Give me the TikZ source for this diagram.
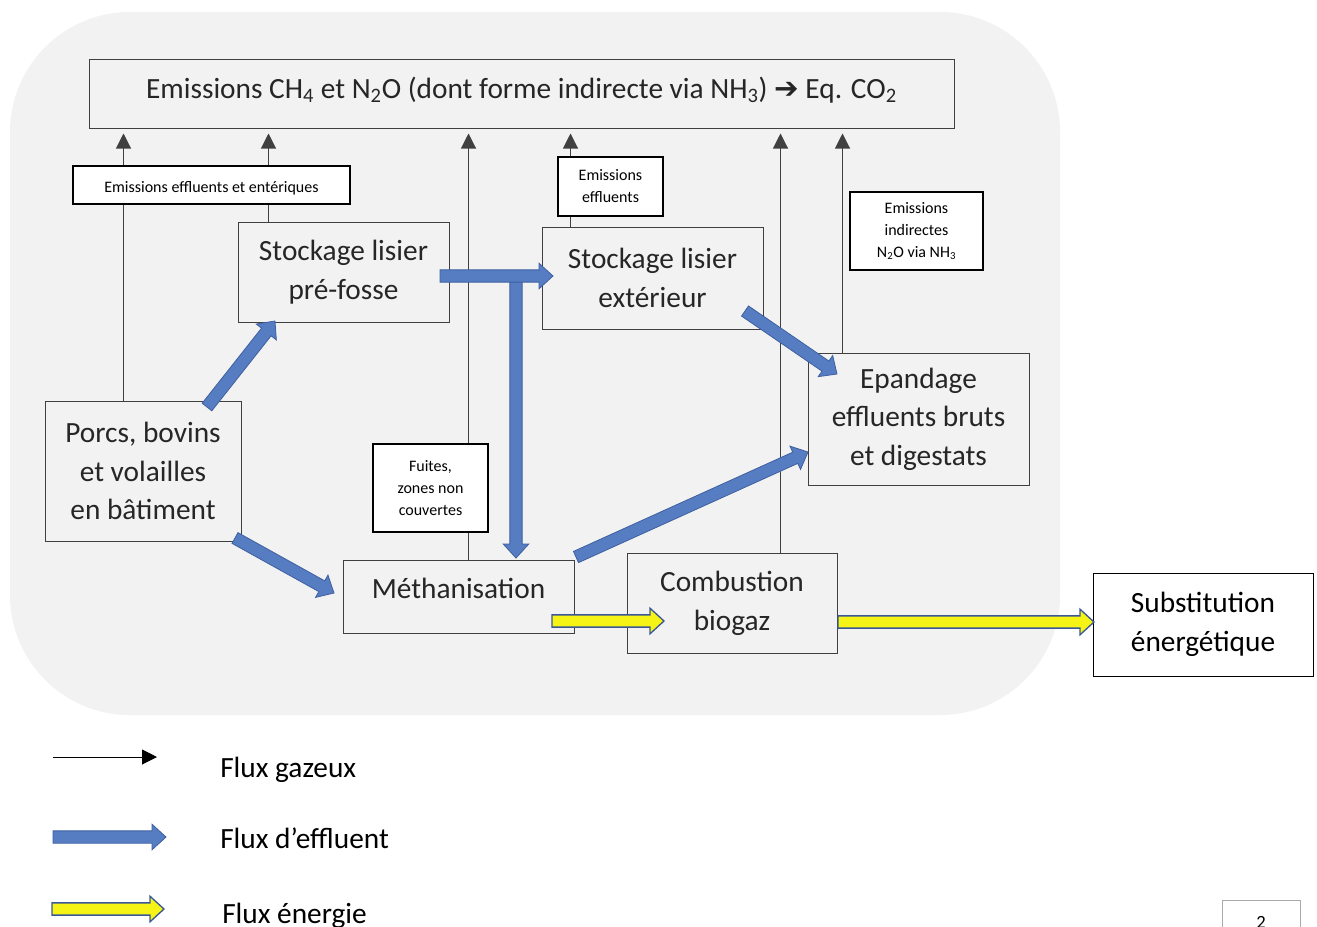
\documentclass[tikz,border=0pt]{standalone}
\usepackage{fontspec}
\setmainfont{Carlito}
\newfontfamily\djv{DejaVu Sans}
\usetikzlibrary{calc,arrows.meta}
\definecolor{bgc}{RGB}{242,242,242}
\definecolor{edge}{RGB}{64,64,64}
\definecolor{txt}{RGB}{38,38,38}
\definecolor{effl}{RGB}{86,124,194}
\definecolor{effld}{RGB}{62,96,160}
\definecolor{enrg}{RGB}{246,243,22}
\definecolor{enrgd}{RGB}{58,88,150}
\definecolor{pgc}{RGB}{170,170,170}
\newcommand{\myBig}{\fontsize{22}{29}\selectfont}
\newcommand{\mySmall}{\fontsize{12}{16.5}\selectfont}
\newcommand{\fatarrow}[3]{%
  \coordinate (fa-c) at ($(#3)!10.5pt!(#2)$);
  \draw[#1] ($(#2)!4.6pt!90:(#3)$) -- ($(fa-c)!4.6pt!90:(#3)$) -- ($(fa-c)!9.6pt!90:(#3)$) -- (#3)
    -- ($(fa-c)!9.6pt!-90:(#3)$) -- ($(fa-c)!4.6pt!-90:(#3)$) -- ($(#2)!4.6pt!-90:(#3)$) -- cycle;
}
\tikzset{
  sz/.style 2 args={minimum width=#1*0.75pt, minimum height=#2*0.75pt},
  box/.style={draw=edge, fill=bgc, line width=0.75pt, inner sep=0pt, align=center, font=\myBig, text=txt},
  lbl/.style={draw=black, fill=white, line width=0.9pt, inner sep=0pt, align=center, font=\mySmall, text=black},
  gas/.style={draw=edge, line width=0.8pt, -{Triangle[length=11.25pt,width=11.25pt]}, shorten >=3.75pt},
  gasleg/.style={draw=black, line width=0.7pt, -{Triangle[length=11.25pt,width=11.25pt]}},
  effluent/.style={fill=effl, draw=effld, line width=0.6pt, line join=miter},
  energie/.style={fill=enrg, draw=enrgd, line width=1pt, line join=miter},
  legtext/.style={anchor=base west, inner sep=0pt, font=\myBig, text=black}
}
\begin{document}
\begin{tikzpicture}[x=0.75pt,y=-0.75pt]
\useasboundingbox[fill=white] (0,0) rectangle (1317,926);
% background panel
\fill[bgc, rounded corners=90pt] (10,12) rectangle (1060,715);

% boxes (positioned first so lines can refer to them)
\node[box, sz={865}{69}, text height=16pt, text depth=8.9pt] (top) at (521.5,93.5) {Emissions CH\textsubscript{4} et N\textsubscript{2}O (dont forme indirecte via NH\textsubscript{3}) {\djv ➔} Eq. CO\textsubscript{2}};
\node[box, sz={211}{100}] (pref) at (343.5,272) {Stockage lisier\\pré-fosse};
\node[box, sz={196}{140}] (porcs) at (143,471) {Porcs, bovins\\et volailles\\en bâtiment};
\node[box, sz={221}{102}] (ext) at (652.5,278) {Stockage lisier\\extérieur};
\node[box, sz={221}{132}] (epan) at (918.5,419) {Epandage\\effluents bruts\\et digestats};
\node[box, sz={231}{73}, text height=10pt, text depth=6.5pt] (meth) at (458.5,596.5) {Méthanisation};
\node[box, sz={210}{100}] (comb) at (732,603) {Combustion\\biogaz};
\node[box, sz={220}{103}, fill=white, draw=black, text=black] (subs) at (1203,624.5) {Substitution\\énergétique};

% gas flows
\coordinate (g1) at ($(porcs.north west)+(79,0)$);
\coordinate (g2) at ($(pref.north west)+(31,0)$);
\coordinate (g3) at ($(meth.north west)+(126,0)$);
\coordinate (g4) at ($(ext.north west)+(29,0)$);
\coordinate (g5) at ($(comb.north west)+(154,0)$);
\coordinate (g6) at ($(epan.north west)+(35,0)$);
\foreach \g in {g1,g2,g3,g4,g5,g6}{
  \draw[gas] (\g) -- (\g |- top.south);
}

% labels on the gas flows
\node[lbl, sz={277}{38}, text height=11.3pt, text depth=0pt] (lee) at (211.5,185) {Emissions effluents et entériques};
\node[lbl, sz={105}{59}] (le) at (610.5,186.5) {Emissions\\effluents};
\node[lbl, sz={133}{78}] (li) at (916.5,231) {Emissions\\indirectes\\N\textsubscript{2}O via NH\textsubscript{3}};
\node[lbl, sz={115}{88}] (lf) at (430.5,488) {Fuites,\\zones non\\couvertes};

% effluent flows
\coordinate (b1s) at (207,407); \coordinate (b1e) at (275,321);
\coordinate (b2s) at (235,538); \coordinate (b2e) at (334,593);
\coordinate (b3s) at (440,276); \coordinate (b3e) at (553,276);
\coordinate (b4s) at (516,280); \coordinate (b4e) at (516,558);
\coordinate (b5s) at (745,311); \coordinate (b5e) at (837,374);
\coordinate (b6s) at (576,557); \coordinate (b6e) at (808,452);
\fatarrow{effluent}{b1s}{b1e}
\fatarrow{effluent}{b2s}{b2e}
\fatarrow{effluent}{b4s}{b4e}
\fatarrow{effluent}{b3s}{b3e}
\fatarrow{effluent}{b5s}{b5e}
\fatarrow{effluent}{b6s}{b6e}

% energy flows
\coordinate (y1s) at (552,621); \coordinate (y1e) at (664,621);
\coordinate (y2s) at (838,622); \coordinate (y2e) at (1094,622);
\fatarrow{energie}{y1s}{y1e}
\fatarrow{energie}{y2s}{y2e}

% legend
\coordinate (l1s) at (53,757); \coordinate (l1e) at (157,757);
\draw[gasleg] (l1s) -- (l1e);
\coordinate (l2s) at (53,837); \coordinate (l2e) at (166,837);
\fatarrow{effluent}{l2s}{l2e}
\coordinate (l3s) at (52,909); \coordinate (l3e) at (164,909);
\fatarrow{energie}{l3s}{l3e}
\node[legtext] (t1) at (220,777) {Flux gazeux};
\node[legtext] (t2) at (220,848) {Flux d’effluent};
\node[legtext] (t3) at (222,923) {Flux énergie};

% page number box (cut by the page edge)
\node[draw=pgc, line width=0.8pt, sz={78}{60}, anchor=north west, inner sep=0pt] (pg) at (1222,900) {};
\node[anchor=north, inner sep=0pt, font=\fontsize{14}{14}\selectfont] (pgn) at (1261,916) {2};
\end{tikzpicture}
\end{document}
